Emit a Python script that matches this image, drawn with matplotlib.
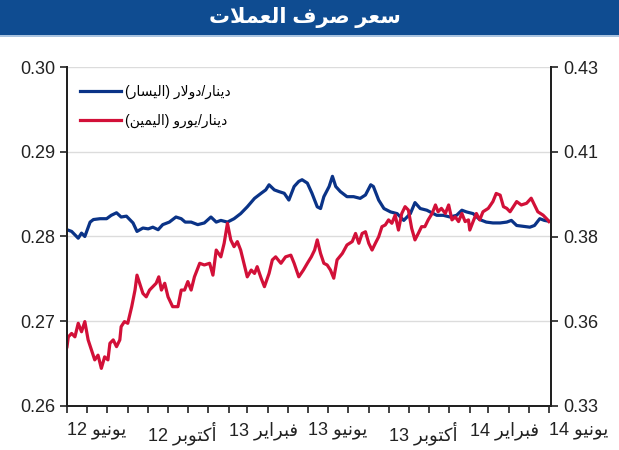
import re
import pandas as pd
import matplotlib
matplotlib.use("Agg")
import matplotlib.pyplot as plt
import matplotlib.dates as mdates
from matplotlib.patches import Rectangle
from matplotlib.ticker import FuncFormatter

plt.rcParams['font.family'] = ['Liberation Sans', 'DejaVu Sans']

# dinar / dollar (left axis)
usd_dates = ['2012-06-01', '2012-06-08', '2012-06-18', '2012-06-23', '2012-06-28', '2012-07-06', '2012-07-11',
             '2012-07-21', '2012-07-31', '2012-08-07', '2012-08-15', '2012-08-22', '2012-08-30', '2012-09-04',
             '2012-09-09', '2012-09-15', '2012-09-24', '2012-10-02', '2012-10-09', '2012-10-17', '2012-10-24',
             '2012-11-03', '2012-11-13', '2012-11-21', '2012-11-27', '2012-12-06', '2012-12-16', '2012-12-26',
             '2013-01-05', '2013-01-13', '2013-01-20', '2013-01-30', '2013-02-09', '2013-02-19', '2013-03-01',
             '2013-03-12', '2013-03-22', '2013-03-29', '2013-04-03', '2013-04-11', '2013-04-18', '2013-04-26',
             '2013-05-03', '2013-05-11', '2013-05-18', '2013-05-23', '2013-05-31', '2013-06-07', '2013-06-15',
             '2013-06-20', '2013-06-25', '2013-07-03', '2013-07-08', '2013-07-13', '2013-07-20', '2013-07-30',
             '2013-08-09', '2013-08-19', '2013-08-27', '2013-09-04', '2013-09-08', '2013-09-16', '2013-09-24',
             '2013-10-04', '2013-10-14', '2013-10-24', '2013-11-03', '2013-11-10', '2013-11-18', '2013-11-28',
             '2013-12-08', '2013-12-13', '2013-12-23', '2014-01-02', '2014-01-12', '2014-01-20', '2014-01-27',
             '2014-02-06', '2014-02-16', '2014-02-26', '2014-03-08', '2014-03-19', '2014-03-29', '2014-04-05',
             '2014-04-13', '2014-04-23', '2014-05-03', '2014-05-10', '2014-05-18', '2014-05-25', '2014-06-01']
usd_values = [0.2808, 0.2806, 0.2798, 0.2804, 0.2800, 0.2817, 0.2820,
              0.2821, 0.2821, 0.2825, 0.2828, 0.2823, 0.2824, 0.2820,
              0.2816, 0.2806, 0.2810, 0.2809, 0.2811, 0.2808, 0.2814,
              0.2817, 0.2823, 0.2821, 0.2817, 0.2817, 0.2814, 0.2816,
              0.2823, 0.2817, 0.2819, 0.2817, 0.2821, 0.2827, 0.2835,
              0.2845, 0.2851, 0.2855, 0.2861, 0.2855, 0.2853, 0.2851,
              0.2843, 0.2859, 0.2865, 0.2867, 0.2863, 0.2851, 0.2835,
              0.2833, 0.2847, 0.2859, 0.2871, 0.2859, 0.2853, 0.2847,
              0.2847, 0.2845, 0.2849, 0.2861, 0.2859, 0.2843, 0.2833,
              0.2829, 0.2827, 0.2819, 0.2827, 0.2840, 0.2833, 0.2831,
              0.2827, 0.2825, 0.2825, 0.2823, 0.2825, 0.2831, 0.2829,
              0.2827, 0.2820, 0.2817, 0.2816, 0.2816, 0.2817, 0.2819,
              0.2813, 0.2812, 0.2811, 0.2813, 0.2821, 0.2819, 0.2818]

# dinar / euro (right axis)
eur_dates = ['2012-06-01', '2012-06-03', '2012-06-08', '2012-06-13', '2012-06-18', '2012-06-23', '2012-06-28',
             '2012-07-03', '2012-07-08', '2012-07-13', '2012-07-18', '2012-07-23', '2012-07-28', '2012-08-02',
             '2012-08-05', '2012-08-10', '2012-08-15', '2012-08-20', '2012-08-22', '2012-08-27', '2012-09-01',
             '2012-09-07', '2012-09-12', '2012-09-15', '2012-09-19', '2012-09-24', '2012-09-29', '2012-10-04',
             '2012-10-09', '2012-10-14', '2012-10-18', '2012-10-22', '2012-10-27', '2012-11-01', '2012-11-08',
             '2012-11-16', '2012-11-21', '2012-11-26', '2012-12-01', '2012-12-06', '2012-12-11', '2012-12-19',
             '2012-12-26', '2013-01-03', '2013-01-08', '2013-01-13', '2013-01-20', '2013-01-25', '2013-01-30',
             '2013-02-04', '2013-02-09', '2013-02-14', '2013-02-19', '2013-02-24', '2013-03-01', '2013-03-07',
             '2013-03-12', '2013-03-16', '2013-03-22', '2013-03-27', '2013-04-03', '2013-04-08', '2013-04-13',
             '2013-04-21', '2013-04-28', '2013-05-06', '2013-05-11', '2013-05-18', '2013-05-25', '2013-05-31',
             '2013-06-06', '2013-06-11', '2013-06-15', '2013-06-20', '2013-06-25', '2013-06-30', '2013-07-05',
             '2013-07-10', '2013-07-15', '2013-07-23', '2013-07-30', '2013-08-07', '2013-08-12', '2013-08-17',
             '2013-08-22', '2013-08-27', '2013-09-01', '2013-09-06', '2013-09-11', '2013-09-16', '2013-09-21',
             '2013-09-26', '2013-10-01', '2013-10-06', '2013-10-11', '2013-10-16', '2013-10-21', '2013-10-26',
             '2013-10-31', '2013-11-05', '2013-11-10', '2013-11-15', '2013-11-20', '2013-11-25', '2013-11-30',
             '2013-12-06', '2013-12-11', '2013-12-15', '2013-12-20', '2013-12-26', '2013-12-31', '2014-01-05',
             '2014-01-10', '2014-01-15', '2014-01-20', '2014-01-25', '2014-01-30', '2014-02-01', '2014-02-06',
             '2014-02-11', '2014-02-16', '2014-02-21', '2014-03-01', '2014-03-08', '2014-03-13', '2014-03-19',
             '2014-03-24', '2014-03-29', '2014-04-03', '2014-04-08', '2014-04-13', '2014-04-20', '2014-04-28',
             '2014-05-05', '2014-05-10', '2014-05-15', '2014-05-23', '2014-05-30', '2014-06-01']
eur_values = [0.3475, 0.3504, 0.3514, 0.3504, 0.3544, 0.3519, 0.3549,
              0.3495, 0.3465, 0.3436, 0.3450, 0.3411, 0.3445, 0.3436,
              0.3485, 0.3495, 0.3475, 0.3495, 0.3534, 0.3549, 0.3544,
              0.3593, 0.3642, 0.3686, 0.3662, 0.3632, 0.3622, 0.3642,
              0.3652, 0.3662, 0.3681, 0.3642, 0.3662, 0.3622, 0.3593,
              0.3593, 0.3642, 0.3642, 0.3667, 0.3642, 0.3681, 0.3721,
              0.3716, 0.3721, 0.3686, 0.3760, 0.3740, 0.3780, 0.3839,
              0.3790, 0.3770, 0.3785, 0.3760, 0.3721, 0.3681, 0.3701,
              0.3691, 0.3711, 0.3677, 0.3652, 0.3691, 0.3731, 0.3740,
              0.3721, 0.3740, 0.3745, 0.3721, 0.3681, 0.3701, 0.3721,
              0.3740, 0.3760, 0.3790, 0.3750, 0.3721, 0.3716, 0.3701,
              0.3677, 0.3731, 0.3750, 0.3775, 0.3785, 0.3809, 0.3780,
              0.3809, 0.3814, 0.3780, 0.3760, 0.3780, 0.3799, 0.3829,
              0.3834, 0.3849, 0.3839, 0.3863, 0.3819, 0.3868, 0.3888,
              0.3878, 0.3824, 0.3790, 0.3809, 0.3829, 0.3829, 0.3849,
              0.3868, 0.3893, 0.3873, 0.3883, 0.3868, 0.3893, 0.3849,
              0.3858, 0.3844, 0.3868, 0.3844, 0.3849, 0.3819, 0.3844,
              0.3868, 0.3849, 0.3873, 0.3883, 0.3903, 0.3927, 0.3922,
              0.3888, 0.3883, 0.3873, 0.3888, 0.3903, 0.3893, 0.3898,
              0.3913, 0.3893, 0.3873, 0.3863, 0.3849, 0.3844]

title_text = 'سعر صرف العملات'
usd_label = 'دينار/دولار (اليسار)'
eur_label = 'دينار/يورو (اليمين)'
month_names = {6: 'يونيو', 10: 'أكتوبر', 2: 'فبراير'}
left_ticks = [0.26, 0.27, 0.28, 0.29, 0.30]
right_ticks = [0.33, 0.355, 0.38, 0.405, 0.43]
right_tick_labels = ['0.33', '0.36', '0.38', '0.41', '0.43']

# matplotlib has no arabic shaping / bidi, so do it by hand
FORMS = {
    'ا': ('\uFE8D', '\uFE8E', None, None),
    'أ': ('\uFE83', '\uFE84', None, None),
    'ب': ('\uFE8F', '\uFE90', '\uFE91', '\uFE92'),
    'ت': ('\uFE95', '\uFE96', '\uFE97', '\uFE98'),
    'د': ('\uFEA9', '\uFEAA', None, None),
    'ر': ('\uFEAD', '\uFEAE', None, None),
    'س': ('\uFEB1', '\uFEB2', '\uFEB3', '\uFEB4'),
    'ص': ('\uFEB9', '\uFEBA', '\uFEBB', '\uFEBC'),
    'ع': ('\uFEC9', '\uFECA', '\uFECB', '\uFECC'),
    'ف': ('\uFED1', '\uFED2', '\uFED3', '\uFED4'),
    'ك': ('\uFED9', '\uFEDA', '\uFEDB', '\uFEDC'),
    'ل': ('\uFEDD', '\uFEDE', '\uFEDF', '\uFEE0'),
    'م': ('\uFEE1', '\uFEE2', '\uFEE3', '\uFEE4'),
    'ن': ('\uFEE5', '\uFEE6', '\uFEE7', '\uFEE8'),
    'و': ('\uFEED', '\uFEEE', None, None),
    'ي': ('\uFEF1', '\uFEF2', '\uFEF3', '\uFEF4'),
}
LAM_ALEF = {'ا': ('\uFEFB', '\uFEFC'), 'أ': ('\uFEF7', '\uFEF8')}


def shape(s):
    out = []
    i = 0
    while i < len(s):
        c = s[i]
        if c not in FORMS:
            out.append(c)
            i += 1
            continue
        prev = s[i - 1] if i > 0 else ''
        joins_prev = prev in FORMS and FORMS[prev][2] is not None
        if c == 'ل' and i + 1 < len(s) and s[i + 1] in LAM_ALEF:
            out.append(LAM_ALEF[s[i + 1]][1 if joins_prev else 0])
            i += 2
            continue
        nxt = s[i + 1] if i + 1 < len(s) else ''
        joins_next = FORMS[c][2] is not None and nxt in FORMS
        iso, fin, ini, med = FORMS[c]
        if joins_prev and joins_next:
            out.append(med)
        elif joins_prev:
            out.append(fin)
        elif joins_next:
            out.append(ini)
        else:
            out.append(iso)
        i += 1
    return ''.join(out)


def ar(s):
    t = shape(s)[::-1]
    t = t.translate(str.maketrans('()', ')('))
    t = re.sub(r'[0-9.]+', lambda m: m.group(0)[::-1], t)
    return t


usd = pd.Series(usd_values, index=pd.to_datetime(usd_dates))
eur = pd.Series(eur_values, index=pd.to_datetime(eur_dates))

blue = '#0a3387'
red = '#d21038'

fig = plt.figure(figsize=(6.19, 4.5), dpi=100)
ax = fig.add_axes([67 / 619, 1 - 406 / 450, 484 / 619, 339 / 450])
ax2 = ax.twinx()

l1, = ax.plot(usd.index, usd.values, color=blue, lw=2.3)
l2, = ax2.plot(eur.index, eur.values, color=red, lw=2.3)

ax.set_ylim(0.26, 0.30)
ax.set_yticks(left_ticks)
ax.set_yticklabels(['%.2f' % v for v in left_ticks])
ax2.set_ylim(0.33, 0.43)
ax2.set_yticks(right_ticks)
ax2.set_yticklabels(right_tick_labels)
ax.set_xlim(pd.Timestamp('2012-06-01'), pd.Timestamp('2014-06-04'))

ax.grid(axis='y', color='#dcdcdc', lw=1)
ax.set_axisbelow(True)

ax.xaxis.set_major_locator(mdates.MonthLocator())


def month_fmt(x, pos):
    d = mdates.num2date(x)
    if d.month in month_names:
        return ar(month_names[d.month] + ' ' + d.strftime('%y'))
    return ''


ax.xaxis.set_major_formatter(FuncFormatter(month_fmt))
for lbl in ax.get_xticklabels():
    lbl.set_ha('left')

for a in (ax, ax2):
    a.spines['top'].set_visible(False)
    for s in ('left', 'right', 'bottom'):
        a.spines[s].set_color('#222222')
        a.spines[s].set_linewidth(1.4)
    a.tick_params(direction='out', length=5, width=1.2, labelsize=13, colors='#222222')
ax.tick_params(axis='x', pad=6)

ax.legend([l1, l2], [ar(usd_label), ar(eur_label)], loc='upper left',
          bbox_to_anchor=(0.0, 0.985), frameon=False, fontsize=10,
          handlelength=3.0, labelspacing=1.1, handletextpad=0.3)

# title bar
fig.patches.append(Rectangle((0, 1 - 35 / 450), 1, 35 / 450, transform=fig.transFigure,
                             facecolor='#0f4c91', edgecolor='none'))
fig.patches.append(Rectangle((0, 1 - 37 / 450), 1, 2 / 450, transform=fig.transFigure,
                             facecolor='#a9c3df', edgecolor='none'))
fig.text(305 / 619, 1 - 17 / 450, ar(title_text), color='white', fontsize=15, fontweight='bold',
         ha='center', va='center')

fig.savefig('out.png', dpi=100)
